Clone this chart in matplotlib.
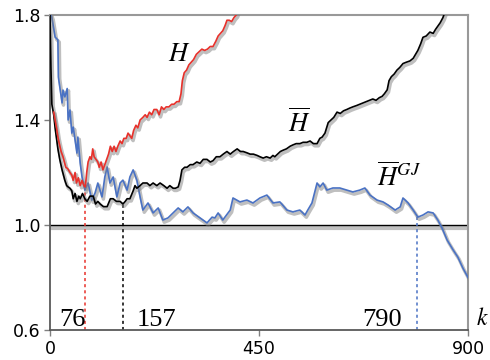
import numpy as np
import matplotlib
matplotlib.use("Agg")
import matplotlib.pyplot as plt
import matplotlib.patheffects as pe

plt.rcParams["mathtext.fontset"] = "stix"

# H (red)
k_h = [8, 11, 14, 17, 20, 24, 28, 31, 34, 38, 43, 47, 50, 54, 57, 61, 65, 69,
       73, 76, 79, 82, 86, 89, 92, 95, 99, 103, 106, 110, 114, 118, 122, 126,
       130, 134, 138, 142, 146, 151, 155, 159, 164, 168, 172, 176, 180, 185,
       189, 194, 200, 205, 209, 214, 219, 224, 230, 235, 240, 245, 250, 256,
       262, 267, 273, 278, 282, 285, 289, 294, 299, 304, 309, 315, 321, 327,
       333, 339, 345, 351, 357, 362, 367, 372, 377, 381, 386, 391, 396, 401,
       405]
h = [1.43, 1.40, 1.37, 1.335, 1.31, 1.28, 1.26, 1.24, 1.22, 1.215, 1.20,
     1.19, 1.17, 1.20, 1.16, 1.18, 1.15, 1.17, 1.15, 1.145, 1.20, 1.24, 1.26,
     1.25, 1.29, 1.26, 1.25, 1.24, 1.22, 1.24, 1.21, 1.23, 1.25, 1.27, 1.30,
     1.28, 1.30, 1.28, 1.30, 1.32, 1.31, 1.33, 1.33, 1.35, 1.34, 1.33, 1.36,
     1.38, 1.37, 1.40, 1.41, 1.42, 1.41, 1.43, 1.42, 1.44, 1.44, 1.42, 1.45,
     1.44, 1.45, 1.45, 1.46, 1.46, 1.47, 1.47, 1.50, 1.55, 1.58, 1.59, 1.61,
     1.62, 1.63, 1.65, 1.66, 1.67, 1.665, 1.67, 1.68, 1.68, 1.70, 1.72, 1.73,
     1.74, 1.76, 1.78, 1.78, 1.775, 1.79, 1.80, 1.82]

# H bar (black)
k_hbar = [0, 2, 4, 8, 11, 14, 17, 21, 26, 29, 32, 36, 39, 43, 47, 50, 54, 58,
          62, 65, 70, 75, 80, 86, 93, 98, 103, 108, 115, 123, 130, 136, 143,
          151, 157, 162, 166, 172, 179, 183, 187, 194, 200, 209, 215, 222, 230,
          237, 245, 252, 258, 265, 270, 276, 280, 284, 290, 295, 302, 308, 316,
          323, 330, 338, 345, 351, 358, 366, 373, 381, 388, 395, 403, 410, 416,
          424, 431, 438, 446, 452, 459, 466, 474, 480, 484, 490, 496, 502, 509,
          517, 523, 530, 538, 545, 553, 560, 567, 575, 581, 586, 592, 599, 605,
          611, 618, 625, 632, 639, 645, 652, 660, 667, 674, 681, 688, 695, 702,
          709, 715, 720, 726, 730, 735, 741, 747, 753, 760, 767, 775, 782, 787,
          792, 798, 803, 810, 818, 825, 830, 836, 840, 846, 850]
hbar = [1.80, 1.60, 1.46, 1.42, 1.37, 1.33, 1.29, 1.25, 1.21, 1.19, 1.17,
        1.15, 1.145, 1.14, 1.13, 1.10, 1.12, 1.09, 1.11, 1.10, 1.12, 1.10,
        1.09, 1.11, 1.11, 1.08, 1.09, 1.08, 1.07, 1.07, 1.10, 1.10, 1.09,
        1.09, 1.08, 1.09, 1.10, 1.10, 1.13, 1.15, 1.14, 1.15, 1.16, 1.16,
        1.15, 1.16, 1.15, 1.16, 1.15, 1.14, 1.15, 1.14, 1.14, 1.145, 1.17,
        1.21, 1.22, 1.22, 1.23, 1.23, 1.24, 1.235, 1.25, 1.25, 1.24, 1.245,
        1.26, 1.26, 1.27, 1.28, 1.27, 1.28, 1.29, 1.28, 1.28, 1.275, 1.27,
        1.27, 1.265, 1.26, 1.255, 1.26, 1.255, 1.265, 1.26, 1.27, 1.28, 1.285,
        1.29, 1.30, 1.305, 1.31, 1.31, 1.315, 1.315, 1.32, 1.31, 1.31, 1.33,
        1.335, 1.35, 1.39, 1.40, 1.41, 1.43, 1.425, 1.435, 1.44, 1.445, 1.45,
        1.455, 1.46, 1.465, 1.47, 1.475, 1.48, 1.475, 1.485, 1.49, 1.50, 1.515,
        1.55, 1.565, 1.575, 1.59, 1.60, 1.615, 1.62, 1.625, 1.635, 1.65, 1.665,
        1.69, 1.715, 1.72, 1.735, 1.73, 1.745, 1.76, 1.77, 1.79, 1.81]

# H bar GJ (blue)
k_gj = [2, 4, 11, 17, 18, 26, 28, 32, 37, 39, 43, 47, 50, 58, 60, 65, 69, 75,
        82, 90, 97, 103, 112, 118, 123, 129, 136, 144, 151, 157, 166, 172,
        179, 187, 194, 200, 211, 222, 233, 243, 254, 265, 276, 286, 297, 308,
        323, 338, 349, 355, 362, 372, 388, 394, 409, 424, 437, 452, 467, 480,
        495, 510, 523, 538, 549, 555, 564, 575, 581, 588, 596, 609, 624, 639,
        652, 667, 678, 689, 704, 717, 728, 743, 754, 760, 771, 782, 792, 803,
        814, 825, 835, 844, 855, 868, 878, 889, 900]
gj = [1.80, 1.79, 1.716, 1.705, 1.564, 1.465, 1.514, 1.488, 1.52, 1.40,
      1.438, 1.35, 1.373, 1.274, 1.335, 1.236, 1.183, 1.133, 1.16, 1.095,
      1.122, 1.16, 1.107, 1.183, 1.221, 1.16, 1.183, 1.107, 1.16, 1.171,
      1.133, 1.183, 1.21, 1.171, 1.107, 1.057, 1.084, 1.046, 1.065, 1.019,
      1.027, 1.046, 1.065, 1.05, 1.069, 1.046, 1.027, 1.008, 1.03, 1.027,
      1.046, 1.019, 1.057, 1.103, 1.088, 1.095, 1.084, 1.103, 1.114, 1.084,
      1.088, 1.057, 1.05, 1.057, 1.038, 1.057, 1.084, 1.16, 1.145, 1.16,
      1.133, 1.141, 1.141, 1.133, 1.126, 1.133, 1.141, 1.114, 1.095, 1.088,
      1.076, 1.057, 1.069, 1.103, 1.084, 1.057, 1.03, 1.038, 1.05, 1.046,
      1.019, 0.989, 0.943, 0.905, 0.878, 0.836, 0.80]

opt_k = [76, 157, 790]
opt_labels = ["76", "157", "790"]

RED = "#e8312b"
BLUE = "#4a72c4"


def shadowed(width=1.3):
  return [pe.SimpleLineShadow(offset=(1.0, -1.6), shadow_color="0.5",
                              alpha=0.5, linewidth=width + 1.2),
          pe.Normal()]


fig = plt.figure(figsize=(4.9, 3.6), dpi=100)
ax = fig.add_axes([50 / 490, 30 / 360, 418 / 490, 315 / 360])

ax.axhline(1.0, color="black", lw=1.0, zorder=1,
           path_effects=[pe.SimpleLineShadow(offset=(0, -2.0),
                                             shadow_color="0.6", alpha=0.6,
                                             linewidth=3.0),
                         pe.Normal()])

ax.plot(k_gj, gj, color=BLUE, lw=1.2, zorder=3, path_effects=shadowed())
ax.plot(k_hbar, hbar, color="black", lw=1.2, zorder=4, path_effects=shadowed())
ax.plot(k_h, h, color=RED, lw=1.2, zorder=5, path_effects=shadowed())

series = [(k_h, h, RED), (k_hbar, hbar, "black"), (k_gj, gj, BLUE)]
for k, (kx, ky, c) in zip(opt_k, series):
  top = np.interp(k, kx, ky)
  ax.plot([k, k], [0.6, top], color=c, lw=1.1, ls=(0, (2, 2)), zorder=2)

serif = ["Liberation Serif", "DejaVu Serif"]
ax.text(19, 0.615, opt_labels[0], family=serif, fontsize=19)
ax.text(187, 0.615, opt_labels[1], family=serif, fontsize=19)
ax.text(672, 0.615, opt_labels[2], family=serif, fontsize=19)

ax.text(255, 1.625, r"$H$", fontsize=19)
ax.text(513, 1.355, r"$\overline{H}$", fontsize=19)
ax.text(705, 1.15, r"$\overline{H}^{GJ}$", fontsize=19)
ax.text(1.018, 0.015, r"$k$", fontsize=17, transform=ax.transAxes)

ax.set_xlim(0, 900)
ax.set_ylim(0.6, 1.8)
ax.set_xticks([0, 450, 900])
ax.set_yticks([0.6, 1.0, 1.4, 1.8])
ax.set_yticklabels(["0.6", "1.0", "1.4", "1.8"])
ax.tick_params(length=4, width=1.0, color="0.5", labelsize=12.5, pad=3)

for side in ("top", "right"):
  ax.spines[side].set_color("0.6")
  ax.spines[side].set_linewidth(1.5)
for side in ("left", "bottom"):
  ax.spines[side].set_color("0.35")
  ax.spines[side].set_linewidth(1.3)

fig.savefig("out.png", dpi=100)
